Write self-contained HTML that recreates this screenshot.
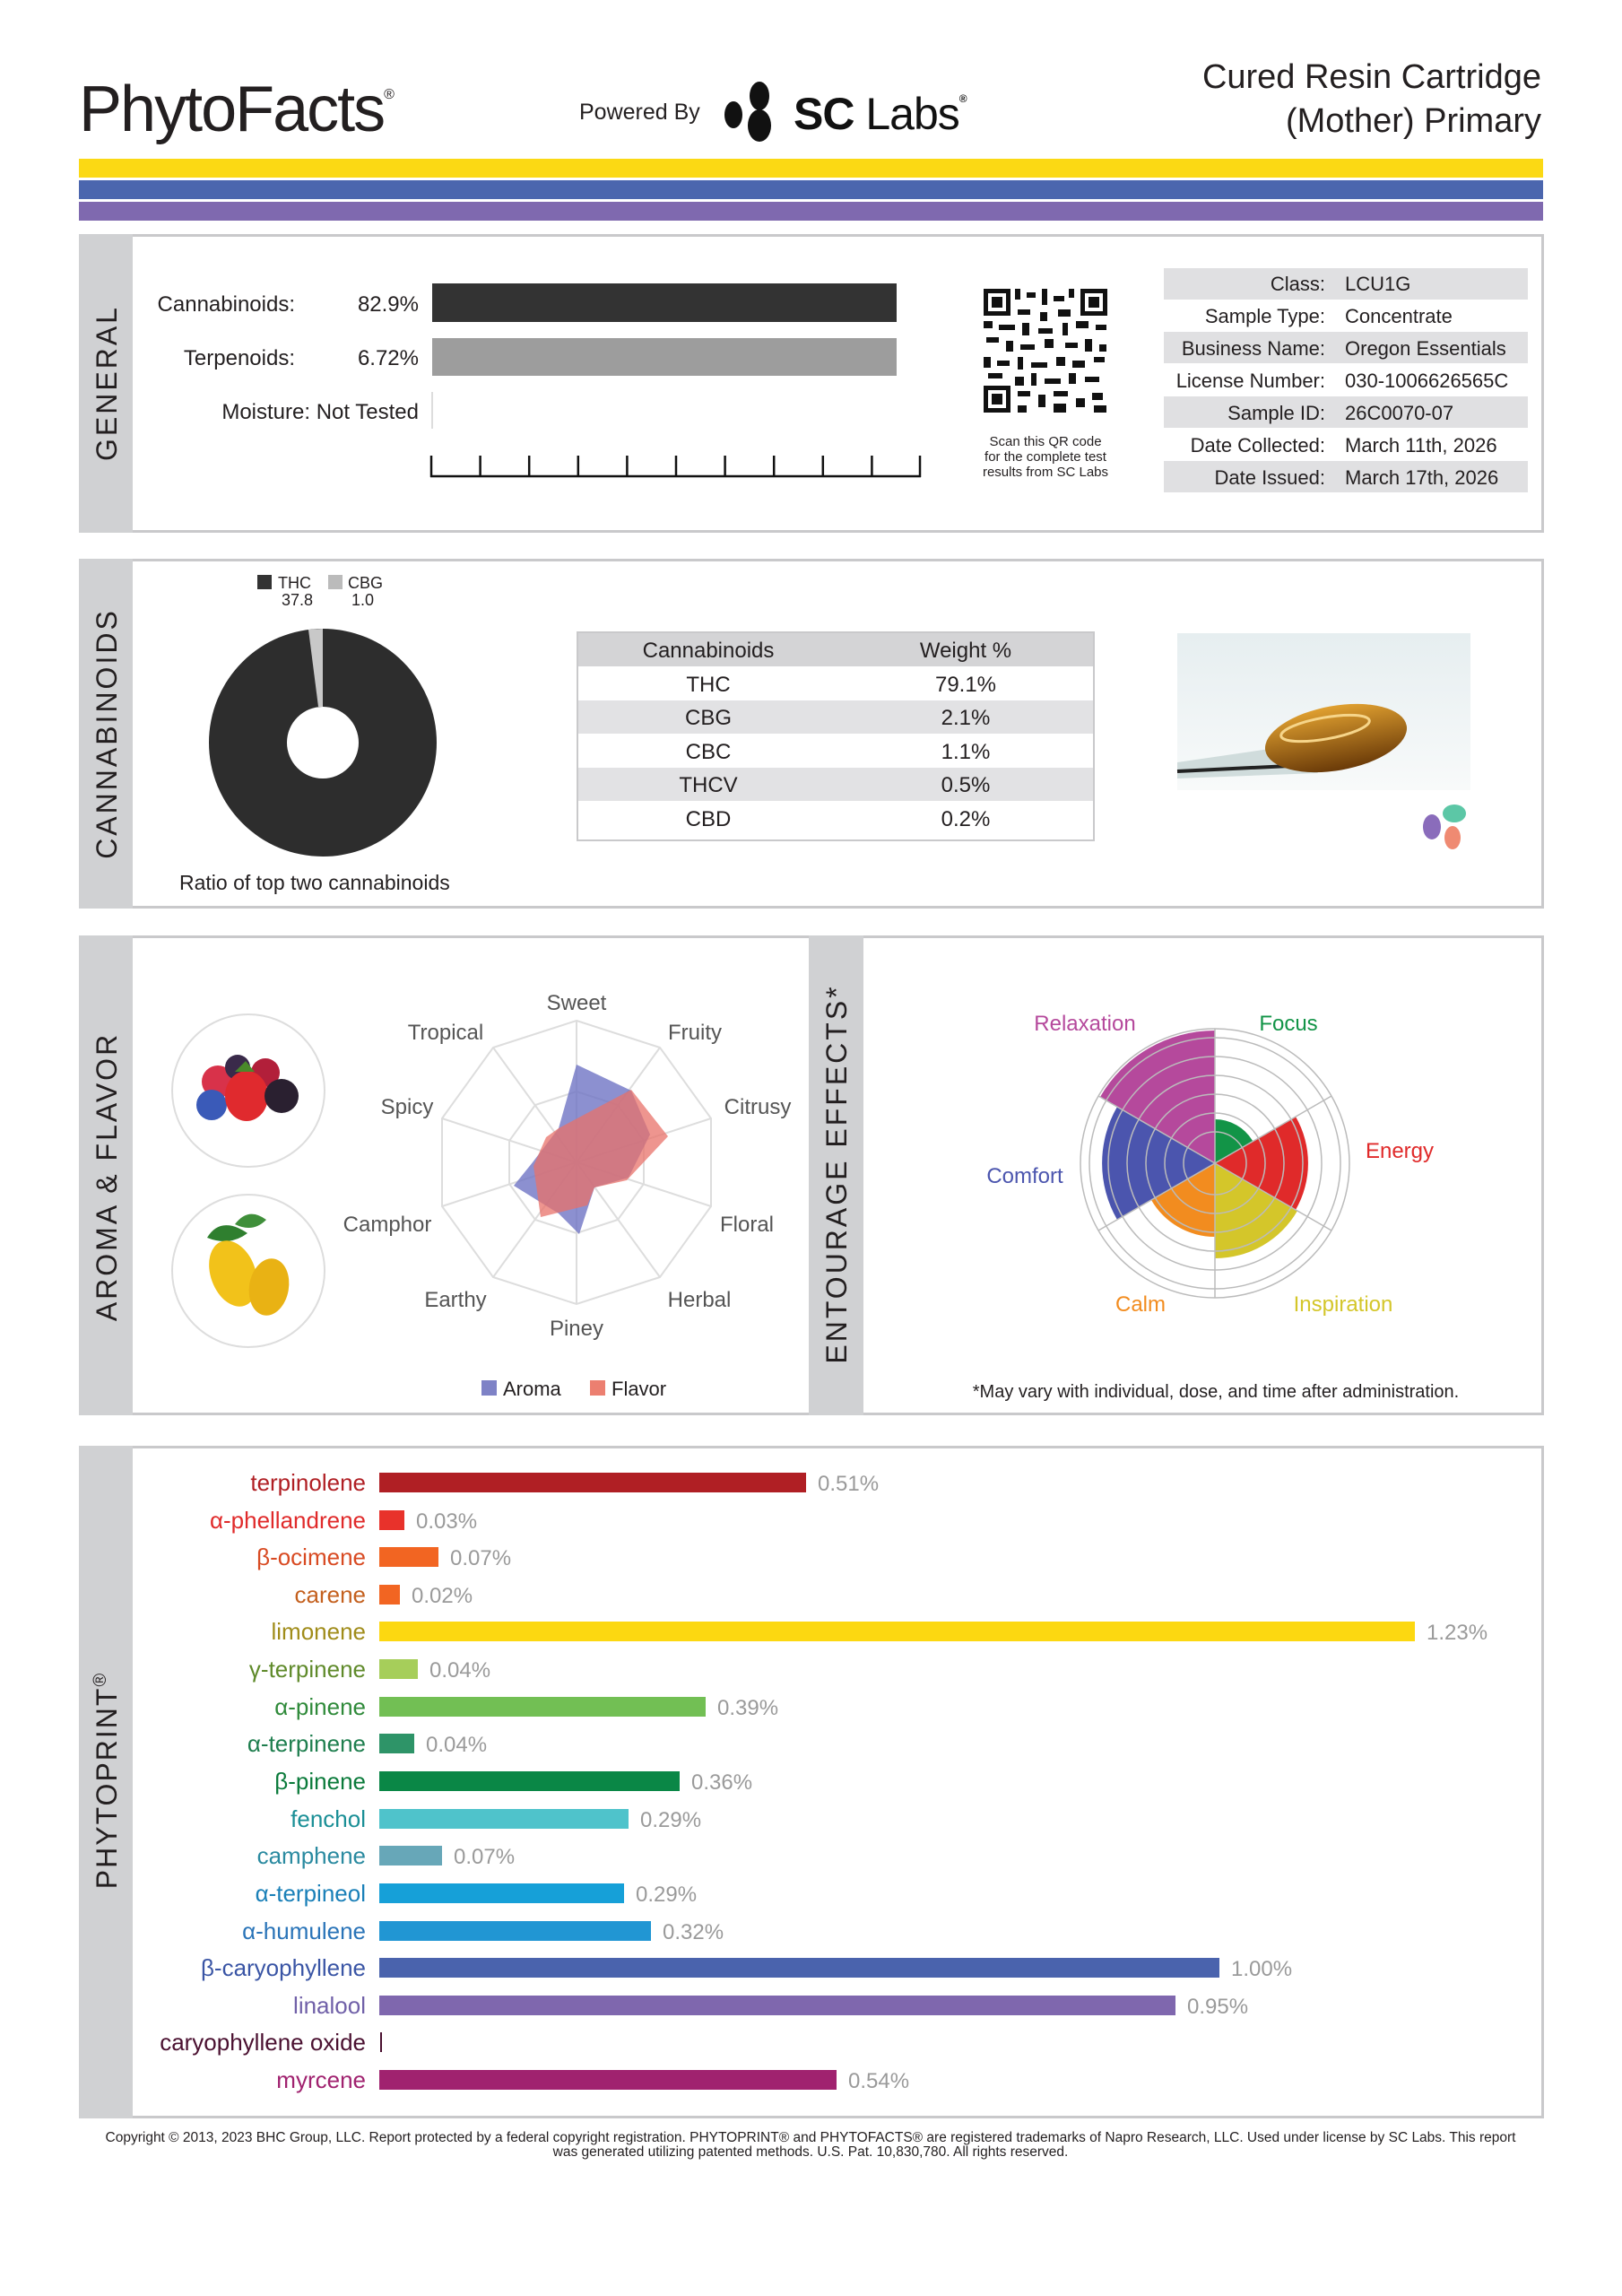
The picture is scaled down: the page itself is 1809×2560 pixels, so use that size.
<!DOCTYPE html>
<html><head><meta charset="utf-8"><style>
html,body{margin:0;padding:0;background:#fff}
svg{display:block}
text{font-family:"Liberation Sans",sans-serif}
</style></head><body>
<svg width="1809" height="2560" viewBox="0 0 1809 2560" xmlns="http://www.w3.org/2000/svg">
<text x="88" y="146" font-size="72" fill="#231f20" letter-spacing="-2">PhytoFacts<tspan font-size="16" dy="-36">®</tspan></text>
<text x="646" y="133" font-size="25" fill="#231f20">Powered By</text>
<g fill="#111">
<ellipse cx="847" cy="107" rx="11" ry="16"/><ellipse cx="818" cy="128" rx="10" ry="15"/><ellipse cx="847" cy="140" rx="13" ry="18"/>
</g>
<text x="885" y="144" font-size="50" font-weight="bold" fill="#111" letter-spacing="-1">SC<tspan font-weight="normal"> Labs</tspan><tspan font-size="12" dy="-30">®</tspan></text>
<text x="1719" y="98" font-size="38" fill="#231f20" text-anchor="end">Cured Resin Cartridge</text>
<text x="1719" y="147" font-size="38" fill="#231f20" text-anchor="end">(Mother) Primary</text>
<rect x="88" y="177" width="1633" height="21" fill="#fbd914"/>
<rect x="88" y="201" width="1633" height="21" fill="#4b66ae"/>
<rect x="88" y="225" width="1633" height="21" fill="#7f69af"/>

<rect x="89.5" y="262.5" width="1631" height="330" fill="#fff" stroke="#c9c9cb" stroke-width="3"/>
<rect x="88" y="261" width="60" height="333" fill="#d0d1d3"/>
<text transform="translate(130,427) rotate(-90)" font-size="32" fill="#231f20" text-anchor="middle" letter-spacing="3">GENERAL</text>
<text x="329" y="347" font-size="24" fill="#231f20" text-anchor="end">Cannabinoids:</text>
<text x="467" y="347" font-size="24" fill="#231f20" text-anchor="end">82.9%</text>
<rect x="482" y="316" width="518" height="43" fill="#333"/>
<text x="329" y="407" font-size="24" fill="#231f20" text-anchor="end">Terpenoids:</text>
<text x="467" y="407" font-size="24" fill="#231f20" text-anchor="end">6.72%</text>
<rect x="482" y="377" width="518" height="42" fill="#9d9d9d"/>
<text x="467" y="467" font-size="24" fill="#231f20" text-anchor="end">Moisture:  Not Tested</text>
<line x1="482" y1="437" x2="482" y2="478" stroke="#ddd" stroke-width="2"/>
<g stroke="#111" stroke-width="2.5">
<line x1="480" y1="531" x2="1027" y2="531"/>
<line x1="481" y1="508" x2="481" y2="532"/><line x1="535.6" y1="508" x2="535.6" y2="532"/><line x1="590.2" y1="508" x2="590.2" y2="532"/><line x1="644.8" y1="508" x2="644.8" y2="532"/><line x1="699.4" y1="508" x2="699.4" y2="532"/><line x1="754" y1="508" x2="754" y2="532"/><line x1="808.6" y1="508" x2="808.6" y2="532"/><line x1="863.2" y1="508" x2="863.2" y2="532"/><line x1="917.8" y1="508" x2="917.8" y2="532"/><line x1="972.4" y1="508" x2="972.4" y2="532"/><line x1="1026" y1="508" x2="1026" y2="532"/>
</g>
<g fill="#111">
<rect x="1097" y="322" width="138" height="138" fill="#fff"/>
<rect x="1097" y="322" width="30" height="30"/><rect x="1102" y="327" width="20" height="20" fill="#fff"/><rect x="1106" y="331" width="12" height="12"/>
<rect x="1205" y="322" width="30" height="30"/><rect x="1210" y="327" width="20" height="20" fill="#fff"/><rect x="1214" y="331" width="12" height="12"/>
<rect x="1097" y="430" width="30" height="30"/><rect x="1102" y="435" width="20" height="20" fill="#fff"/><rect x="1106" y="439" width="12" height="12"/>
<rect x="1132" y="322" width="6" height="12"/><rect x="1145" y="326" width="10" height="6"/><rect x="1162" y="322" width="6" height="18"/><rect x="1175" y="330" width="12" height="6"/><rect x="1192" y="322" width="6" height="10"/>
<rect x="1135" y="345" width="14" height="6"/><rect x="1160" y="348" width="8" height="10"/><rect x="1180" y="345" width="14" height="8"/>
<rect x="1097" y="358" width="10" height="8"/><rect x="1114" y="362" width="18" height="6"/><rect x="1140" y="360" width="8" height="14"/><rect x="1158" y="366" width="16" height="6"/><rect x="1185" y="360" width="6" height="14"/><rect x="1200" y="358" width="14" height="8"/><rect x="1222" y="362" width="12" height="6"/>
<rect x="1100" y="376" width="14" height="6"/><rect x="1122" y="380" width="8" height="12"/><rect x="1138" y="384" width="16" height="6"/><rect x="1165" y="378" width="10" height="10"/><rect x="1188" y="382" width="14" height="6"/><rect x="1210" y="378" width="8" height="14"/><rect x="1226" y="384" width="8" height="8"/>
<rect x="1097" y="398" width="8" height="12"/><rect x="1112" y="402" width="14" height="6"/><rect x="1135" y="398" width="6" height="14"/><rect x="1150" y="404" width="18" height="6"/><rect x="1178" y="398" width="10" height="10"/><rect x="1196" y="402" width="14" height="8"/><rect x="1220" y="398" width="12" height="6"/>
<rect x="1102" y="416" width="16" height="6"/><rect x="1132" y="420" width="10" height="10"/><rect x="1150" y="416" width="6" height="14"/><rect x="1165" y="422" width="18" height="6"/><rect x="1192" y="416" width="8" height="12"/><rect x="1210" y="420" width="16" height="6"/>
<rect x="1135" y="436" width="14" height="6"/><rect x="1158" y="440" width="8" height="14"/><rect x="1175" y="436" width="16" height="6"/><rect x="1200" y="444" width="10" height="10"/><rect x="1218" y="438" width="12" height="8"/>
<rect x="1135" y="452" width="10" height="8"/><rect x="1175" y="450" width="14" height="10"/><rect x="1220" y="452" width="14" height="8"/>
</g>
<text x="1166" y="497" font-size="15" fill="#231f20" text-anchor="middle">Scan this QR code</text>
<text x="1166" y="514" font-size="15" fill="#231f20" text-anchor="middle">for the complete test</text>
<text x="1166" y="531" font-size="15" fill="#231f20" text-anchor="middle">results from SC Labs</text>
<g fill="#e0e0e2">
<rect x="1298" y="299" width="406" height="35"/><rect x="1298" y="370" width="406" height="35"/><rect x="1298" y="442" width="406" height="35"/><rect x="1298" y="514" width="406" height="35"/>
</g>
<g font-size="22" fill="#231f20">
<text x="1478" y="324" text-anchor="end">Class:</text><text x="1500" y="324">LCU1G</text>
<text x="1478" y="360" text-anchor="end">Sample Type:</text><text x="1500" y="360">Concentrate</text>
<text x="1478" y="396" text-anchor="end">Business Name:</text><text x="1500" y="396">Oregon Essentials</text>
<text x="1478" y="432" text-anchor="end">License Number:</text><text x="1500" y="432">030-1006626565C</text>
<text x="1478" y="468" text-anchor="end">Sample ID:</text><text x="1500" y="468">26C0070-07</text>
<text x="1478" y="504" text-anchor="end">Date Collected:</text><text x="1500" y="504">March 11th, 2026</text>
<text x="1478" y="540" text-anchor="end">Date Issued:</text><text x="1500" y="540">March 17th, 2026</text>
</g>

<rect x="89.5" y="624.5" width="1631" height="387" fill="#fff" stroke="#c9c9cb" stroke-width="3"/>
<rect x="88" y="623" width="60" height="390" fill="#d0d1d3"/>
<text transform="translate(130,818) rotate(-90)" font-size="32" fill="#231f20" text-anchor="middle" letter-spacing="3">CANNABINOIDS</text>
<rect x="287" y="641" width="16" height="16" fill="#333"/>
<text x="310" y="656" font-size="18" fill="#231f20">THC</text>
<text x="314" y="675" font-size="18" fill="#231f20">37.8</text>
<rect x="366" y="641" width="16" height="16" fill="#bbb"/>
<text x="388" y="656" font-size="18" fill="#231f20">CBG</text>
<text x="392" y="675" font-size="18" fill="#231f20">1.0</text>
<circle cx="360" cy="828" r="127" fill="#2d2d2d"/>
<path d="M360 701 L344 702 L355 788 L360 788 Z" fill="#c8c8c8"/>
<circle cx="360" cy="828" r="40" fill="#fff"/>
<text x="200" y="992" font-size="23" fill="#231f20">Ratio of top two cannabinoids</text>
<rect x="644" y="705" width="576" height="232" fill="#fff" stroke="#c9c9cb" stroke-width="2"/>
<rect x="645" y="706" width="574" height="37" fill="#d4d4d6"/>
<rect x="645" y="781" width="574" height="37" fill="#e2e2e4"/>
<rect x="645" y="856" width="574" height="37" fill="#e2e2e4"/>
<g font-size="24" fill="#231f20" text-anchor="middle">
<text x="790" y="733">Cannabinoids</text><text x="1077" y="733">Weight %</text>
<text x="790" y="771">THC</text><text x="1077" y="771">79.1%</text>
<text x="790" y="808">CBG</text><text x="1077" y="808">2.1%</text>
<text x="790" y="846">CBC</text><text x="1077" y="846">1.1%</text>
<text x="790" y="883">THCV</text><text x="1077" y="883">0.5%</text>
<text x="790" y="921">CBD</text><text x="1077" y="921">0.2%</text>
</g>
<defs>
<linearGradient id="bg1" x1="0" y1="0" x2="0" y2="1"><stop offset="0" stop-color="#e6eef0"/><stop offset="1" stop-color="#f8fafa"/></linearGradient>
<linearGradient id="amb" x1="0" y1="0" x2="0" y2="1"><stop offset="0" stop-color="#e0a030"/><stop offset="1" stop-color="#6a3a08"/></linearGradient>
</defs>
<rect x="1313" y="706" width="327" height="175" fill="url(#bg1)"/>
<path d="M1313 850 L1450 830 L1470 862 L1313 868 Z" fill="#d0dcdc"/>
<line x1="1313" y1="860" x2="1480" y2="852" stroke="#222" stroke-width="4"/>
<ellipse cx="1490" cy="823" rx="80" ry="36" fill="url(#amb)" transform="rotate(-10 1490 823)"/>
<ellipse cx="1478" cy="812" rx="50" ry="12" fill="none" stroke="#f6d58a" stroke-width="3" transform="rotate(-10 1478 812)"/>
<ellipse cx="1622" cy="907" rx="13" ry="10" fill="#5cc7a6"/>
<ellipse cx="1597" cy="922" rx="10" ry="14" fill="#8a6cbb"/>
<ellipse cx="1620" cy="934" rx="9" ry="13" fill="#ef8a72"/>

<rect x="89.5" y="1044.5" width="1631" height="532" fill="#fff" stroke="#c9c9cb" stroke-width="3"/>
<rect x="88" y="1043" width="60" height="535" fill="#d0d1d3"/>
<rect x="902" y="1043" width="61" height="535" fill="#d0d1d3"/>
<text transform="translate(130,1312) rotate(-90)" font-size="32" fill="#231f20" text-anchor="middle" letter-spacing="3">AROMA &amp; FLAVOR</text>
<text transform="translate(944,1309) rotate(-90)" font-size="32" fill="#231f20" text-anchor="middle" letter-spacing="3">ENTOURAGE EFFECTS*</text>
<circle cx="277" cy="1216" r="85" fill="#fff" stroke="#ddd" stroke-width="2"/>
<circle cx="277" cy="1417" r="85" fill="#fff" stroke="#ddd" stroke-width="2"/>
<circle cx="243" cy="1206" r="18" fill="#d8324a"/><circle cx="265" cy="1190" r="14" fill="#3a2a4a"/><circle cx="296" cy="1196" r="16" fill="#b21f3a"/>
<circle cx="236" cy="1232" r="17" fill="#3a5ab8"/><ellipse cx="275" cy="1222" rx="24" ry="28" fill="#e02a2e"/><circle cx="314" cy="1222" r="19" fill="#2a2030"/>
<path d="M262 1195 l12 -12 l10 12 z" fill="#4a8a2a"/>
<path d="M262 1365 q15 -20 35 -5 q-15 15 -35 5z" fill="#3f8f3a"/><path d="M276 1375 q-30 -20 -45 5 q25 10 45 -5z" fill="#2f7f2f"/>
<ellipse cx="260" cy="1420" rx="25" ry="38" fill="#f2c21a" transform="rotate(-20 260 1420)"/>
<ellipse cx="300" cy="1435" rx="22" ry="32" fill="#e9b214" transform="rotate(10 300 1435)"/>
<g fill="none" stroke="#ddd" stroke-width="2">
<polygon points="643,1138 736,1168 793,1247 793,1345 736,1424 643,1454 550,1424 493,1345 493,1247 550,1168"/>
<polygon points="643,1217 689,1232 718,1272 718,1320 689,1360 643,1375 597,1360 568,1320 568,1272 597,1232"/>
<line x1="643" y1="1296" x2="643" y2="1138"/><line x1="643" y1="1296" x2="736" y2="1168"/><line x1="643" y1="1296" x2="793" y2="1247"/><line x1="643" y1="1296" x2="793" y2="1345"/><line x1="643" y1="1296" x2="736" y2="1424"/><line x1="643" y1="1296" x2="643" y2="1454"/><line x1="643" y1="1296" x2="550" y2="1424"/><line x1="643" y1="1296" x2="493" y2="1345"/><line x1="643" y1="1296" x2="493" y2="1247"/><line x1="643" y1="1296" x2="550" y2="1168"/>
</g>
<polygon points="643,1187 704,1216 725,1265 701,1313 663,1324 646,1376 623,1353 573,1322 594,1296 623,1258" fill="#6f74c4" fill-opacity="0.8"/>
<polygon points="704,1215 745,1267 699,1316 663,1324 655,1344 603,1357 595,1300 609,1268 623,1258" fill="#e8726a" fill-opacity="0.75"/>
<g font-size="24" fill="#555" text-anchor="middle">
<text x="643" y="1126">Sweet</text><text x="775" y="1159">Fruity</text><text x="845" y="1242">Citrusy</text><text x="833" y="1373">Floral</text><text x="780" y="1457">Herbal</text><text x="643" y="1489">Piney</text><text x="508" y="1457">Earthy</text><text x="432" y="1373">Camphor</text><text x="454" y="1242">Spicy</text><text x="497" y="1159">Tropical</text>
</g>
<rect x="537" y="1539" width="17" height="17" fill="#7e82c6"/><text x="561" y="1556" font-size="22" fill="#231f20">Aroma</text>
<rect x="658" y="1539" width="17" height="17" fill="#ec7f70"/><text x="682" y="1556" font-size="22" fill="#231f20">Flavor</text>
<path d="M1355 1297 L1355 1149 A148 148 0 0 0 1227 1223 Z" fill="#b5499c"/>
<path d="M1355 1297 L1246 1234 A126 126 0 0 0 1246 1360 Z" fill="#4b55ae"/>
<path d="M1355 1297 L1284 1338 A82 82 0 0 0 1355 1379 Z" fill="#f28c1f"/>
<path d="M1355 1297 L1355 1403 A106 106 0 0 0 1447 1350 Z" fill="#d4c62a"/>
<path d="M1355 1297 L1445 1245 A104 104 0 0 1 1445 1349 Z" fill="#e02a2a"/>
<path d="M1355 1297 L1355 1248 A49 49 0 0 1 1397 1272 Z" fill="#129447"/>
<g fill="none" stroke="#bbb" stroke-width="1.5">
<circle cx="1355" cy="1297" r="150"/><circle cx="1355" cy="1297" r="140"/><circle cx="1355" cy="1297" r="119"/><circle cx="1355" cy="1297" r="98"/><circle cx="1355" cy="1297" r="77"/><circle cx="1355" cy="1297" r="56"/><circle cx="1355" cy="1297" r="35"/>
<line x1="1355" y1="1147" x2="1355" y2="1447"/><line x1="1225" y1="1222" x2="1485" y2="1372"/><line x1="1225" y1="1372" x2="1485" y2="1222"/>
</g>
<g font-size="24" text-anchor="middle">
<text x="1210" y="1149" fill="#b5499c">Relaxation</text><text x="1437" y="1149" fill="#129447">Focus</text>
<text x="1561" y="1291" fill="#e02a2a">Energy</text><text x="1143" y="1319" fill="#4b55ae">Comfort</text>
<text x="1272" y="1462" fill="#f28c1f">Calm</text><text x="1498" y="1462" fill="#d4c62a">Inspiration</text>
</g>
<text x="1356" y="1558" font-size="20" fill="#231f20" text-anchor="middle">*May vary with individual, dose, and time after administration.</text>

<rect x="89.5" y="1613.5" width="1631" height="747" fill="#fff" stroke="#c9c9cb" stroke-width="3"/>
<rect x="88" y="1612" width="60" height="750" fill="#d0d1d3"/>
<text transform="translate(130,1985) rotate(-90)" font-size="32" fill="#231f20" text-anchor="middle" letter-spacing="2">PHYTOPRINT<tspan font-size="20" dy="-12">®</tspan></text>
<g font-size="26" text-anchor="end">
<text x="408" y="1662" fill="#b01f24">terpinolene</text>
<text x="408" y="1704" fill="#e02a2a">α-phellandrene</text>
<text x="408" y="1745" fill="#d84a22">β-ocimene</text>
<text x="408" y="1787" fill="#c4601e">carene</text>
<text x="408" y="1828" fill="#a08c1a">limonene</text>
<text x="408" y="1870" fill="#5f8a2a">γ-terpinene</text>
<text x="408" y="1912" fill="#2f8a3a">α-pinene</text>
<text x="408" y="1953" fill="#1e7e4e">α-terpinene</text>
<text x="408" y="1995" fill="#0a7a3a">β-pinene</text>
<text x="408" y="2037" fill="#1a8f96">fenchol</text>
<text x="408" y="2078" fill="#2a8aa0">camphene</text>
<text x="408" y="2120" fill="#1a80b8">α-terpineol</text>
<text x="408" y="2162" fill="#2a74b8">α-humulene</text>
<text x="408" y="2203" fill="#3a55a5">β-caryophyllene</text>
<text x="408" y="2245" fill="#7060a8">linalool</text>
<text x="408" y="2286" fill="#4a1030">caryophyllene oxide</text>
<text x="408" y="2328" fill="#a0226f">myrcene</text>
</g>
<rect x="423" y="1642" width="476" height="22" fill="#b01f24"/>
<rect x="423" y="1684" width="28" height="22" fill="#e8322b"/>
<rect x="423" y="1725" width="66" height="22" fill="#f26522"/>
<rect x="423" y="1767" width="23" height="22" fill="#f26522"/>
<rect x="423" y="1808" width="1155" height="22" fill="#fcd811"/>
<rect x="423" y="1850" width="43" height="22" fill="#a6ce5a"/>
<rect x="423" y="1892" width="364" height="22" fill="#72bf54"/>
<rect x="423" y="1933" width="39" height="22" fill="#2e9468"/>
<rect x="423" y="1975" width="335" height="22" fill="#0a8746"/>
<rect x="423" y="2017" width="278" height="22" fill="#4fc3cb"/>
<rect x="423" y="2058" width="70" height="22" fill="#67a7b8"/>
<rect x="423" y="2100" width="273" height="22" fill="#16a0d8"/>
<rect x="423" y="2142" width="303" height="22" fill="#2196d3"/>
<rect x="423" y="2183" width="937" height="22" fill="#4a63ad"/>
<rect x="423" y="2225" width="888" height="22" fill="#7f67ae"/>
<rect x="424" y="2266" width="2" height="22" fill="#4a1030"/>
<rect x="423" y="2308" width="510" height="22" fill="#a0226f"/>
<g font-size="24" fill="#9a9a9a">
<text x="912" y="1662">0.51%</text><text x="464" y="1704">0.03%</text><text x="502" y="1745">0.07%</text><text x="459" y="1787">0.02%</text>
<text x="1591" y="1828">1.23%</text><text x="479" y="1870">0.04%</text><text x="800" y="1912">0.39%</text><text x="475" y="1953">0.04%</text>
<text x="771" y="1995">0.36%</text><text x="714" y="2037">0.29%</text><text x="506" y="2078">0.07%</text><text x="709" y="2120">0.29%</text>
<text x="739" y="2162">0.32%</text><text x="1373" y="2203">1.00%</text><text x="1324" y="2245">0.95%</text><text x="946" y="2328">0.54%</text>
</g>
<text x="904" y="2388" font-size="15.5" fill="#231f20" text-anchor="middle">Copyright © 2013, 2023 BHC Group, LLC. Report protected by a federal copyright registration. PHYTOPRINT® and PHYTOFACTS® are registered trademarks of Napro Research, LLC. Used under license by SC Labs. This report</text>
<text x="904" y="2404" font-size="15.5" fill="#231f20" text-anchor="middle">was generated utilizing patented methods. U.S. Pat. 10,830,780. All rights reserved.</text>
</svg>
</body></html>
